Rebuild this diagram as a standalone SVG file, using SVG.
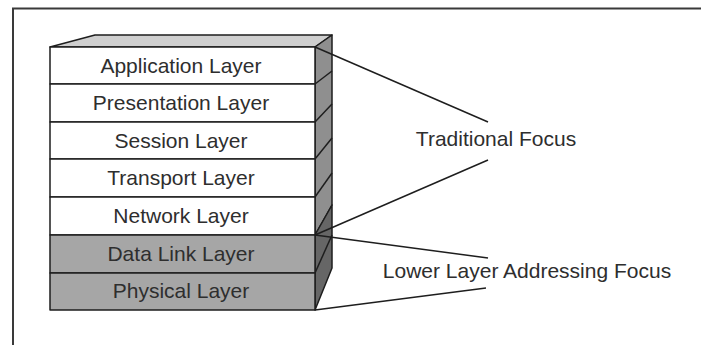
<svg xmlns="http://www.w3.org/2000/svg" width="701" height="345" viewBox="0 0 701 345">
  <style>
    .frame { fill: none; stroke: #3a3a3a; stroke-width: 2; }
    .edge { stroke: #1e1e1e; stroke-width: 1.5; stroke-linejoin: round; }
    .upper { fill: #ffffff; }
    .lower { fill: #a6a6a6; }
    .label { font-family: "Liberation Sans", Arial, sans-serif; font-size: 21px; fill: #2e2e2e; text-anchor: middle; }
    .link { fill: none; stroke: #1e1e1e; stroke-width: 1.5; }
  </style>

  <!-- open frame: top and left borders -->
  <path class="frame" d="M 13 345 L 13 8.5 L 701 8.5"/>

  <!-- 3D stack: top and side faces -->
  <g id="stack-body">
    <polygon class="edge" fill="#cfcfcf" points="50,47 95,35 332,35 315,47"/>
    <polygon class="edge" fill="#8f8f8f" points="315,47 332,35 332,205 315,235"/>
    <polygon class="edge" fill="#666666" points="315,235 332,205 332,268 315,310"/>
    <g class="edge" fill="none">
      <line x1="315" y1="84" x2="332" y2="71"/>
      <line x1="315" y1="122" x2="332" y2="104"/>
      <line x1="315" y1="159" x2="332" y2="138"/>
      <line x1="315" y1="197" x2="332" y2="173"/>
      <line x1="315" y1="273" x2="332" y2="235"/>
    </g>
  </g>

  <g id="application">
    <rect class="upper edge" x="50" y="47" width="265" height="37"/>
    <text class="label" x="181" y="72.5">Application Layer</text>
  </g>
  <g id="presentation">
    <rect class="upper edge" x="50" y="84" width="265" height="38"/>
    <text class="label" x="181" y="110">Presentation Layer</text>
  </g>
  <g id="session">
    <rect class="upper edge" x="50" y="122" width="265" height="37"/>
    <text class="label" x="181" y="147.5">Session Layer</text>
  </g>
  <g id="transport">
    <rect class="upper edge" x="50" y="159" width="265" height="38"/>
    <text class="label" x="181" y="185">Transport Layer</text>
  </g>
  <g id="network">
    <rect class="upper edge" x="50" y="197" width="265" height="38"/>
    <text class="label" x="181" y="223">Network Layer</text>
  </g>
  <g id="datalink">
    <rect class="lower edge" x="50" y="235" width="265" height="38"/>
    <text class="label" x="181" y="261">Data Link Layer</text>
  </g>
  <g id="physical">
    <rect class="lower edge" x="50" y="273" width="265" height="37"/>
    <text class="label" x="181" y="298">Physical Layer</text>
  </g>

  <g id="traditional-focus">
    <text class="label" x="496" y="146">Traditional Focus</text>
  </g>
  <g id="lower-focus">
    <text class="label" x="527" y="278">Lower Layer Addressing Focus</text>
  </g>

  <!-- bracket lines from the stack to the focus labels -->
  <g id="connectors">
    <line class="link" x1="315" y1="47" x2="488" y2="122"/>
    <line class="link" x1="315" y1="235" x2="488" y2="160"/>
    <line class="link" x1="315" y1="235" x2="488" y2="258"/>
    <line class="link" x1="315" y1="310" x2="486" y2="288"/>
  </g>
</svg>
